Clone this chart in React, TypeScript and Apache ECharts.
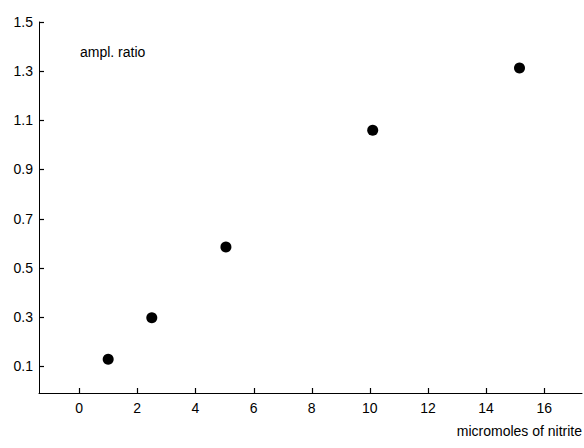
import React, { useEffect, useRef } from "react";
import * as echarts from "echarts";

const xValues = [1.0, 2.5, 5.05, 10.1, 15.15];
const yValues = [0.127, 0.296, 0.584, 1.059, 1.313];
const xTicks = [0, 2, 4, 6, 8, 10, 12, 14, 16];
const yTicks = [0.1, 0.3, 0.5, 0.7, 0.9, 1.1, 1.3, 1.5];
const xAxisTitle = "micromoles of nitrite";
const yAxisTitle = "ampl. ratio";

const FONT = "'Liberation Sans', Arial, Helvetica, sans-serif";
const X_MIN = -1.38;
const X_MAX = 17.3;
const Y_MIN = -0.01;
const Y_MAX = 1.5;
const TICK = 5;

export default function App() {
  const ref = useRef<HTMLDivElement>(null);
  useEffect(() => {
    if (!ref.current) return;
    const chart = echarts.init(ref.current, undefined, { renderer: "svg" });
    const points = xValues.map((x, i) => [x, yValues[i]]);
    const labelStyle = { color: "#000", fontSize: 14, fontFamily: FONT };
    const titles = [
      {
        type: "text",
        left: 80,
        top: 45,
        style: { text: yAxisTitle, fill: "#000", fontSize: 14, fontFamily: FONT },
      },
      {
        type: "text",
        right: 2,
        top: 424,
        style: { text: xAxisTitle, fill: "#000", fontSize: 14, fontFamily: FONT },
      },
    ];
    chart.setOption({
      animation: false,
      backgroundColor: "#ffffff",
      grid: { left: 39, right: 2, top: 22, bottom: 55, containLabel: false, outerBoundsMode: "none" },
      xAxis: {
        type: "value",
        min: X_MIN,
        max: X_MAX,
        splitLine: { show: false },
        axisLine: { show: true, onZero: false, lineStyle: { color: "#000", width: 1 } },
        axisTick: { show: false },
        axisLabel: { customValues: xTicks, margin: 8, ...labelStyle },
      },
      yAxis: {
        type: "value",
        min: Y_MIN,
        max: Y_MAX,
        splitLine: { show: false },
        axisLine: { show: true, onZero: false, lineStyle: { color: "#000", width: 1 } },
        axisTick: { show: false },
        axisLabel: {
          customValues: yTicks,
          formatter: (v: number) => v.toFixed(1),
          margin: 6,
          ...labelStyle,
        },
      },
      graphic: titles,
      series: [
        {
          type: "scatter",
          data: points,
          symbol: "circle",
          symbolSize: 11,
          itemStyle: { color: "#000", opacity: 1 },
          z: 2,
        },
      ],
    });

    // Tick marks placed through the chart's own scales
    const tickLines: any[] = [];
    xTicks.forEach((v) => {
      const p = chart.convertToPixel({ gridIndex: 0 }, [v, Y_MIN]) as number[];
      if (!p) return;
      const x = Math.round(p[0]) + 0.5;
      const y = Math.round(p[1]);
      tickLines.push({
        type: "line",
        z: 100,
        silent: true,
        shape: { x1: x, y1: y, x2: x, y2: y - TICK },
        style: { stroke: "#000", lineWidth: 1.2 },
      });
    });
    yTicks.forEach((v) => {
      const p = chart.convertToPixel({ gridIndex: 0 }, [X_MIN, v]) as number[];
      if (!p) return;
      const x = Math.round(p[0]);
      const y = Math.round(p[1]) + 0.5;
      tickLines.push({
        type: "line",
        z: 100,
        silent: true,
        shape: { x1: x, y1: y, x2: x + TICK, y2: y },
        style: { stroke: "#000", lineWidth: 1.2 },
      });
    });
    chart.setOption({ graphic: [...titles, ...tickLines] }, { replaceMerge: ["graphic"] });

    return () => chart.dispose();
  }, []);
  return (
    <div
      ref={ref}
      style={{ position: "fixed", left: 0, top: 0, width: 584, height: 448 }}
    />
  );
}
